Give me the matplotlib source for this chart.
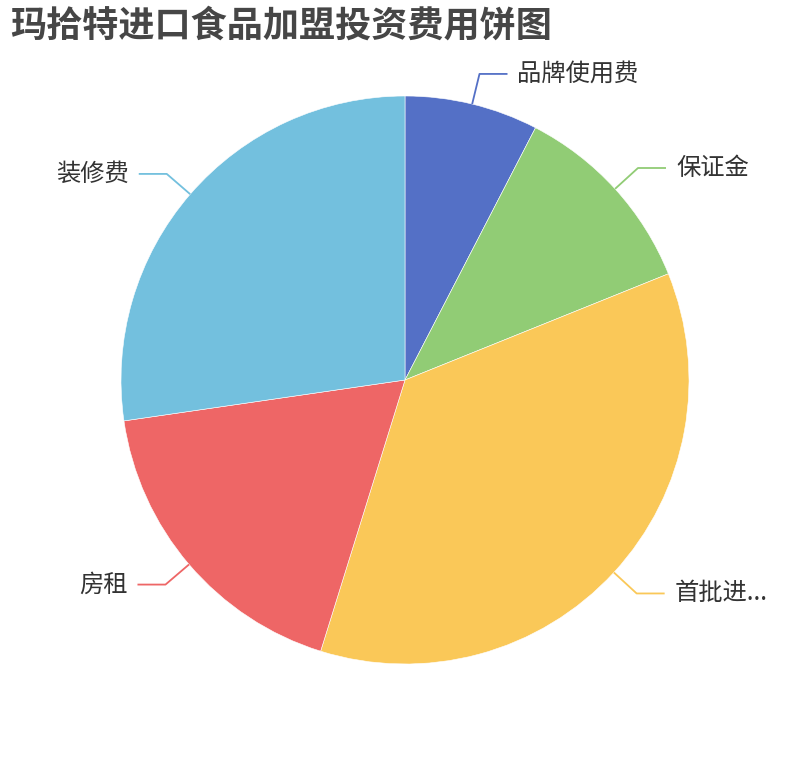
import numpy as np
import matplotlib
matplotlib.use('Agg')
import matplotlib.pyplot as plt

plt.rcParams['font.family'] = ['Noto Sans CJK SC', 'DejaVu Sans']

# data (share of total, clockwise from 12 o'clock)
names = ['品牌使用费', '保证金', '首批进...', '房租', '装修费']
values = [7.6, 11.3, 35.9, 17.9, 27.3]
colors = ['#5470c6', '#91cc75', '#fac858', '#ee6666', '#73c0de']

W, H = 810, 760
fig = plt.figure(figsize=(W / 100, H / 100), dpi=100)
ax = fig.add_axes([0, 0, 1, 1])

cx, cy, r = 405, H - 380, 284
wedges, _ = ax.pie(values, colors=colors, startangle=90, counterclock=False,
                   center=(cx, cy), radius=r, frame=True,
                   wedgeprops=dict(edgecolor='white', linewidth=0.4))
ax.set_xlim(0, W)
ax.set_ylim(0, H)
ax.set_aspect('equal')
ax.axis('off')

# label lines, echarts style: radial piece, then horizontal piece
len1, len2, gap = 31, 28, 10
for w, name, c in zip(wedges, names, colors):
    mid = np.deg2rad((w.theta1 + w.theta2) / 2)
    dx, dy = np.cos(mid), np.sin(mid)
    p0 = (cx + r * dx, cy + r * dy)
    p1 = (cx + (r + len1) * dx, cy + (r + len1) * dy)
    side = 1 if dx >= 0 else -1
    p2 = (p1[0] + side * len2, p1[1])
    ax.plot([p0[0], p1[0], p2[0]], [p0[1], p1[1], p2[1]], color=c, lw=1.3,
            solid_capstyle='butt', zorder=3)
    ax.text(p2[0] + side * gap, p2[1], name, fontsize=17.5, color='#333333',
            ha='left' if side > 0 else 'right', va='center')

fig.text(10 / W, 1 - 26 / H, '玛拾特进口食品加盟投资费用饼图', fontsize=26,
         fontweight='bold', color='#464646', ha='left', va='center')

fig.savefig('out.png', dpi=100)
